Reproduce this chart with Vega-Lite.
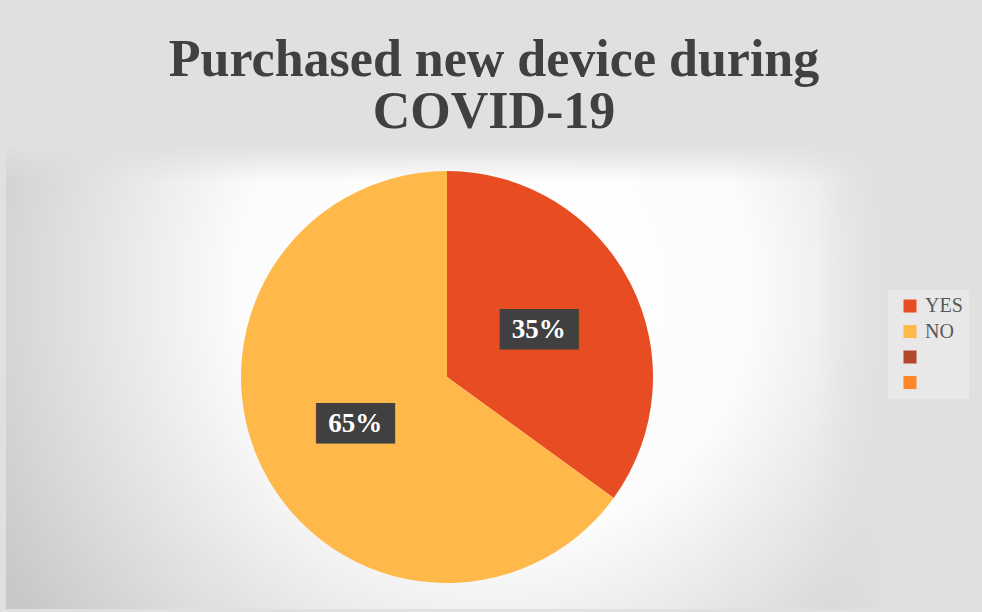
{
  "$schema": "https://vega.github.io/schema/vega-lite/v6.json",
  "width": 882,
  "height": 464,
  "autosize": {"type": "none"},
  "padding": {"left": 6, "top": 145, "right": 94, "bottom": 3},
  "background": "#e0e0e0",
  "title": {
    "text": ["Purchased new device during", "COVID-19"],
    "font": "Liberation Serif",
    "fontSize": 52,
    "fontWeight": "bold",
    "color": "#404040",
    "lineHeight": 52,
    "offset": 6,
    "dx": 47,
    "anchor": "middle"
  },
  "config": {"view": {"stroke": null}},
  "data": {
    "values": [
      {"answer": "YES", "share": 0.35},
      {"answer": "NO", "share": 0.65},
      {"answer": "Series3", "share": 0},
      {"answer": "Series4", "share": 0}
    ]
  },
  "layer": [
    {
      "data": {"values": [{"panel": "background"}]},
      "mark": {
        "type": "rect",
        "fill": {
          "gradient": "radial",
          "x1": 0.553, "y1": 0.4, "r1": 0,
          "x2": 0.553, "y2": 0.4, "r2": 0.643,
          "stops": [
            {"offset": 0, "color": "#ffffff"},
            {"offset": 0.45, "color": "#fcfcfc"},
            {"offset": 1, "color": "#c8c8c8"}
          ]
        }
      },
      "encoding": {}
    },
    {
      "data": {"values": [{"panel": "fade-top"}]},
      "mark": {
        "type": "rect",
        "fill": {
          "gradient": "linear",
          "x1": 0, "y1": 0, "x2": 0, "y2": 1,
          "stops": [
            {"offset": 0, "color": "rgba(224,224,224,1)"},
            {"offset": 0.08, "color": "rgba(224,224,224,0)"},
            {"offset": 1, "color": "rgba(224,224,224,0)"}
          ]
        }
      },
      "encoding": {}
    },
    {
      "data": {"values": [{"panel": "fade-right"}]},
      "mark": {
        "type": "rect",
        "fill": {
          "gradient": "linear",
          "x1": 0, "y1": 0, "x2": 1, "y2": 0,
          "stops": [
            {"offset": 0, "color": "rgba(224,224,224,0)"},
            {"offset": 0.92, "color": "rgba(224,224,224,0)"},
            {"offset": 1, "color": "rgba(224,224,224,1)"}
          ]
        }
      },
      "encoding": {}
    },
    {
      "mark": {"type": "arc", "outerRadius": 206},
      "encoding": {
        "theta": {"field": "share", "type": "quantitative", "stack": true},
        "order": {"field": "share", "sort": "ascending"},
        "color": {
          "field": "answer",
          "type": "nominal",
          "scale": {
            "domain": ["YES", "NO", "Series3", "Series4"],
            "range": ["#E84C22", "#FFB94A", "#B4462A", "#FF8628"]
          },
          "legend": {
            "title": null,
            "orient": "none",
            "legendX": 882,
            "legendY": 145,
            "fillColor": "#e8e8e8",
            "padding": 6,
            "symbolOffset": 6,
            "symbolType": "square",
            "symbolSize": 169,
            "symbolStrokeWidth": 0,
            "labelFont": "Liberation Serif",
            "labelFontSize": 20,
            "labelColor": "#595959",
            "labelOffset": 5,
            "rowPadding": 5.5,
            "labelExpr": "datum.label === 'YES' || datum.label === 'NO' ? datum.label : ''"
          }
        }
      }
    },
    {
      "transform": [{"filter": "datum.share > 0"}],
      "mark": {
        "type": "text",
        "radius": 103,
        "text": "███",
        "font": "DejaVu Sans",
        "fontSize": 34,
        "color": "#404040",
        "dy": 1
      },
      "encoding": {
        "theta": {"field": "share", "type": "quantitative", "stack": true},
        "order": {"field": "share", "sort": "ascending"}
      }
    },
    {
      "transform": [{"filter": "datum.share > 0"}],
      "mark": {
        "type": "text",
        "radius": 103,
        "font": "Liberation Serif",
        "fontSize": 27,
        "fontWeight": "bold",
        "color": "#ffffff"
      },
      "encoding": {
        "theta": {"field": "share", "type": "quantitative", "stack": true},
        "order": {"field": "share", "sort": "ascending"},
        "text": {"field": "share", "type": "quantitative", "format": ".0%"}
      }
    }
  ]
}
